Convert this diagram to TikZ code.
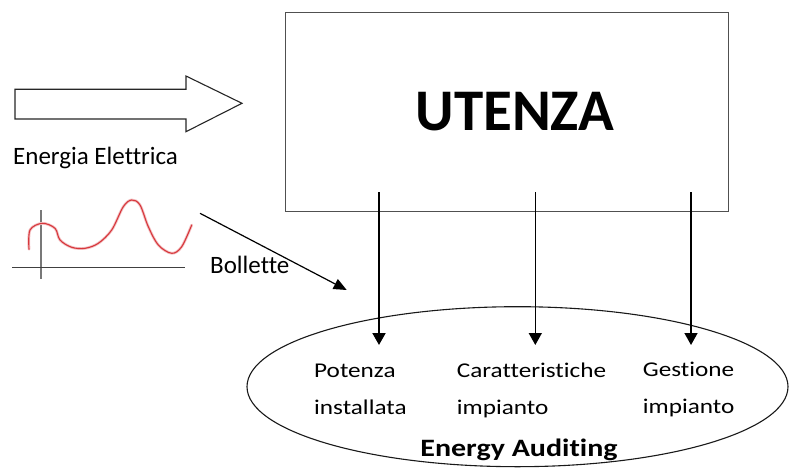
\documentclass[tikz,border=0pt]{standalone}
\usepackage{fontspec}
\setmainfont{Carlito}[Ligatures={NoCommon}]
\newfontfamily\widefont{Carlito}[FakeStretch=1.2, Ligatures={NoCommon}]
\usetikzlibrary{arrows.meta,shapes.geometric}
\definecolor{linegray}{RGB}{80,80,80}
\definecolor{curvered}{RGB}{215,55,60}
\definecolor{axisgray}{RGB}{120,120,120}
\tikzset{
  txt/.style={inner sep=0pt, font=\fontsize{25}{30}\selectfont},
  wtxt/.style={inner sep=0pt, align=left, font=\widefont\fontsize{21}{36.7}\selectfont},
  downarrow/.style={line width=1.5pt, -{Triangle[length=12pt,width=13pt]}},
}
\begin{document}
\begin{tikzpicture}[x=1pt,y=-1pt]
\useasboundingbox (0,0) rectangle (789,468);
% main box
\node[draw=linegray, line width=1.3pt, minimum width=443pt, minimum height=199pt, inner sep=0pt, anchor=north west] (box) at (285,12) {};
\node[inner sep=0pt, anchor=base, font=\bfseries\fontsize{59}{70}\selectfont] (utenza) at (515,130) {UTENZA};
% hollow arrow
\draw[draw=black!85, line width=1.1pt, fill=white] (15,89.3) -- (186,89.3) -- (186,76) -- (242,103.3) -- (186,131.7) -- (186,119) -- (15,119) -- cycle;
\node[txt, anchor=base west] (energia) at (13,164) {Energia Elettrica};
% curve sketch
\draw[axisgray, line width=1.8pt] (40.7,210) -- (40.7,279.3);
\draw[black!75, line width=0.9pt] (12.3,267.7) -- (185,267.7);
\draw[curvered!30, line width=2.8pt, line cap=round] plot[smooth, tension=0.55] coordinates {
 (29,249.3) (30,230) (42.3,223.3) (55,228.3) (60,240) (71.7,247.3) (85,248.3) (98.3,243.3) (111.7,230) (123.3,206.7) (131.7,200) (140,205) (148.3,226.7) (158.3,245) (171.7,253.3) (181.7,246.7) (191.7,225)};
\draw[curvered, line width=1.1pt, line cap=round] plot[smooth, tension=0.55] coordinates {
 (29,249.3) (30,230) (42.3,223.3) (55,228.3) (60,240) (71.7,247.3) (85,248.3) (98.3,243.3) (111.7,230) (123.3,206.7) (131.7,200) (140,205) (148.3,226.7) (158.3,245) (171.7,253.3) (181.7,246.7) (191.7,225)};
\node[txt, anchor=base west] (bollette) at (210,273.3) {Bollette};
\coordinate (bstart) at (200,213.3);
\coordinate (bend) at (346.7,290);
\draw[line width=1.2pt, -{Triangle[length=13pt,width=11pt]}] (bstart) -- (bend);
% ellipse
\node[draw=black!90, line width=1.1pt, ellipse, minimum width=541pt, minimum height=160pt, inner sep=0pt] (ea) at (517.5,386.7) {};
\node[wtxt, anchor=base west] (pot) at (314,414) {Potenza\\installata};
\node[wtxt, anchor=base west] (car) at (456.7,414) {Caratteristiche\\impianto};
\node[wtxt, anchor=base west] (ges) at (642.7,413) {Gestione\\impianto};
\node[inner sep=0pt, anchor=base, font=\widefont\bfseries\fontsize{25}{30}\selectfont] (audit) at (519,456.7) {Energy Auditing};
% down arrows
\coordinate (s1) at (379,192); \coordinate (e1) at (379,345);
\coordinate (s2) at (535.3,192); \coordinate (e2) at (535.3,345);
\coordinate (s3) at (691,192); \coordinate (e3) at (691,345);
\draw[downarrow, line width=2pt] (s1) -- (e1);
\draw[downarrow] (s2) -- (e2);
\draw[downarrow] (s3) -- (e3);
\end{tikzpicture}
\end{document}
